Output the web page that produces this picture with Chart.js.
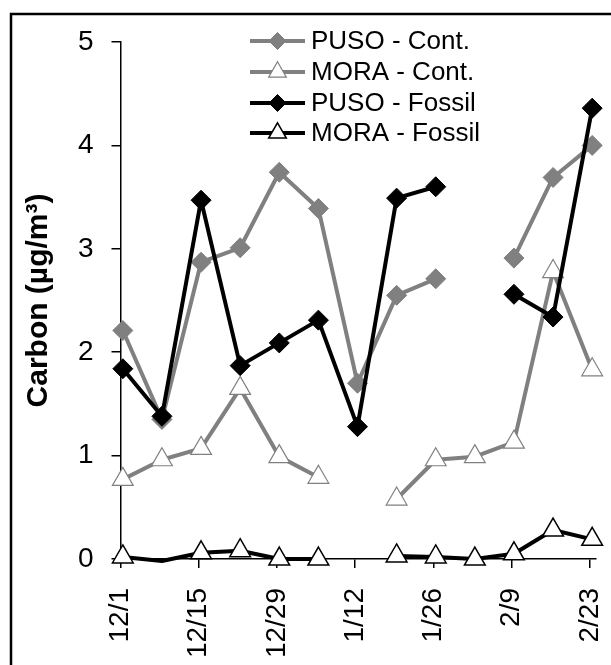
<!DOCTYPE html>
<html>
<head>
<meta charset="utf-8">
<script src="https://cdn.jsdelivr.net/npm/chart.js@4/dist/chart.umd.min.js"></script>
<style>
  html, body { margin: 0; padding: 0; background: #fff; }
  canvas { display: block; }
</style>
</head>
<body>
<canvas id="carbonChart" width="611" height="665"></canvas>
<script>
// Weekly samples, days counted from 12/1
const sampleDays = [0, 7, 14, 21, 28, 35, 42, 49, 56, 63, 70, 77, 84];
const sampleHour = 10; // filters changed mid-morning

// Axis ticks every two weeks
const tickDays = [0, 14, 28, 42, 56, 70, 84];
const tickLabels = ['12/1', '12/15', '12/29', '1/12', '1/26', '2/9', '2/23'];

// Carbon, µg/m³ (null = no sample)
const pusoCont = [2.21, 1.35, 2.87, 3.01, 3.74, 3.39, 1.70, 2.55, 2.71, null, 2.91, 3.69, 4.00];
const moraCont = [0.77, 0.96, 1.07, 1.65, 0.99, 0.79, null, 0.58, 0.96, 0.99, 1.13, 2.78, 1.83];
const pusoFossil = [1.84, 1.38, 3.47, 1.87, 2.09, 2.31, 1.28, 3.49, 3.60, null, 2.56, 2.34, 4.36];
const moraFossil = [0.02, -0.02, 0.06, 0.08, 0.00, 0.00, null, 0.03, 0.02, 0.00, 0.05, 0.28, 0.19];
const moraFossilUnmarked = [1];

const GRAY = '#808080';
const FONT = '"Liberation Sans", Arial, sans-serif';

function toPoints(values) {
    return values.map((v, i) => ({ x: sampleDays[i] + sampleHour / 24, y: v }));
}

const series = [
    { label: 'PUSO - Cont.', data: pusoCont, line: GRAY, style: 'rectRot', fill: GRAY, edge: GRAY, edgeWidth: 1, radius: 10, order: 4 },
    { label: 'MORA - Cont.', data: moraCont, line: GRAY, style: 'triangle', fill: '#fff', edge: GRAY, edgeWidth: 1.2, radius: 12, order: 3 },
    { label: 'PUSO - Fossil', data: pusoFossil, line: '#000', style: 'rectRot', fill: '#000', edge: '#000', edgeWidth: 1, radius: 10, order: 2 },
    { label: 'MORA - Fossil', data: moraFossil, line: '#000', style: 'triangle', fill: '#fff', edge: '#000', edgeWidth: 1.5, radius: 12, order: 1, unmarked: moraFossilUnmarked }
];

// Frame around the figure (left and top edges only are inside the canvas)
const framePlugin = {
    id: 'frame',
    beforeDraw(chart) {
        const ctx = chart.ctx;
        ctx.save();
        ctx.fillStyle = '#fff';
        ctx.fillRect(0, 0, chart.width, chart.height);
        ctx.strokeStyle = '#000';
        ctx.lineWidth = 2.5;
        ctx.beginPath();
        ctx.moveTo(11, chart.height + 5);
        ctx.lineTo(11, 14);
        ctx.lineTo(chart.width + 5, 14);
        ctx.stroke();
        ctx.restore();
    }
};

// Legend inside the plot: line sample with marker, then label
const legendPlugin = {
    id: 'innerLegend',
    afterDraw(chart) {
        const ctx = chart.ctx;
        const x0 = 250, x1 = 305, tx = 311;
        const rowY = [41, 72, 103, 133];
        ctx.save();
        series.forEach((s, i) => {
            const y = rowY[i];
            ctx.strokeStyle = s.line;
            ctx.lineWidth = 4;
            ctx.beginPath();
            ctx.moveTo(x0, y);
            ctx.lineTo(x1, y);
            ctx.stroke();
            ctx.fillStyle = s.fill;
            ctx.strokeStyle = s.edge;
            ctx.lineWidth = s.edgeWidth;
            Chart.helpers.drawPoint(ctx, { pointStyle: s.style, radius: s.radius * 0.85, borderWidth: s.edgeWidth }, (x0 + x1) / 2, y);
            ctx.fillStyle = '#000';
            ctx.font = '26px ' + FONT;
            ctx.textAlign = 'left';
            ctx.textBaseline = 'middle';
            ctx.fillText(s.label, tx, y + 1);
        });
        ctx.restore();
    }
};

new Chart(document.getElementById('carbonChart'), {
    type: 'line',
    data: {
        datasets: series.map(s => ({
            label: s.label,
            data: toPoints(s.data),
            order: s.order,
            borderColor: s.line,
            borderWidth: 4,
            borderJoinStyle: 'round',
            spanGaps: false,
            tension: 0,
            clip: false,
            pointStyle: s.style,
            pointRadius: ctx => (s.unmarked && s.unmarked.includes(ctx.dataIndex)) ? 0 : s.radius,
            pointBackgroundColor: s.fill,
            pointBorderColor: s.edge,
            pointBorderWidth: s.edgeWidth
        }))
    },
    options: {
        responsive: false,
        animation: false,
        events: [],
        layout: {
            autoPadding: false,
            padding: { left: 0, top: 42, right: 15, bottom: 0 }
        },
        plugins: {
            legend: { display: false },
            tooltip: { enabled: false }
        },
        scales: {
            x: {
                type: 'linear',
                min: 0,
                max: 85.1,
                afterBuildTicks: scale => {
                    scale.ticks = tickDays.map(v => ({ value: v }));
                },
                afterFit: scale => {
                    scale.height = 106;
                    scale.paddingLeft = 0;
                    scale.paddingRight = 0;
                },
                border: { display: true, color: '#000', width: 1.5 },
                grid: { drawOnChartArea: false, drawTicks: true, tickLength: 9, color: '#000', lineWidth: 1.5 },
                ticks: {
                    autoSkip: false,
                    minRotation: 90,
                    maxRotation: 90,
                    padding: 20,
                    color: '#000',
                    font: { family: FONT, size: 28 },
                    callback: value => tickLabels[tickDays.indexOf(value)]
                }
            },
            y: {
                min: 0,
                max: 5,
                afterFit: scale => {
                    scale.width = 120.5;
                    scale.paddingTop = 0;
                    scale.paddingBottom = 0;
                },
                border: { display: true, color: '#000', width: 1.5 },
                grid: { drawOnChartArea: false, drawTicks: true, tickLength: 9, color: '#000', lineWidth: 1.5 },
                ticks: {
                    stepSize: 1,
                    padding: 18,
                    color: '#000',
                    font: { family: FONT, size: 28 }
                },
                title: {
                    display: true,
                    text: 'Carbon (µg/m³)',
                    color: '#000',
                    padding: { top: 21, bottom: 0 },
                    font: { family: FONT, size: 30, weight: 'bold' }
                }
            }
        }
    },
    plugins: [framePlugin, legendPlugin]
});
</script>
</body>
</html>
